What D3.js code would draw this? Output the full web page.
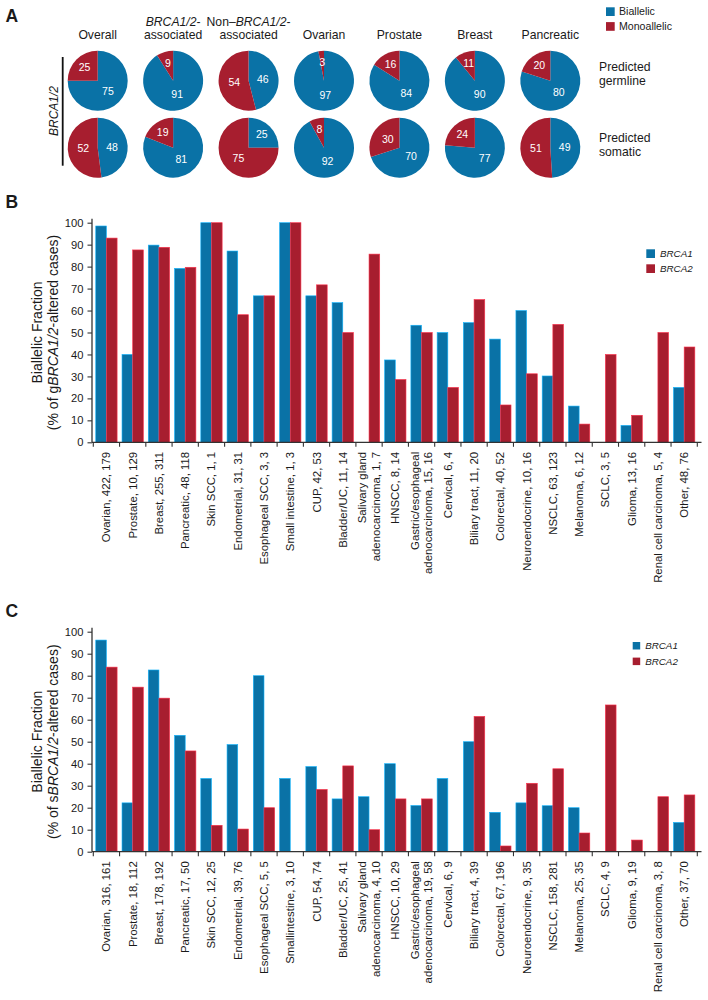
<!DOCTYPE html>
<html><head><meta charset="utf-8">
<script src="https://cdn.jsdelivr.net/npm/d3@7"></script>
<style>
body{margin:0;background:#fff}
svg{display:block}
text{font-family:"Liberation Sans",Arial,Helvetica,sans-serif;fill:#1a1a1a}
</style>
</head><body>
<svg id="chart" width="708" height="1000"></svg>
<script>
// ---------- DATA ----------
const pieGroups = ["Overall","BRCA1/2-associated","Non–BRCA1/2-associated","Ovarian","Prostate","Breast","Pancreatic"];
const pieTitleLines = [["Overall"],["*BRCA1/2*-","associated"],["Non–*BRCA1/2*-","associated"],["Ovarian"],["Prostate"],["Breast"],["Pancreatic"]];
const pieRows = ["germline","somatic"];
const pieRowLabels = [["Predicted","germline"],["Predicted","somatic"]];
const germBiallelic = [75,91,46,97,84,90,80];
const germMonoallelic = [25,9,54,3,16,11,20];
const somBiallelic = [48,81,25,92,70,77,49];
const somMonoallelic = [52,19,75,8,30,24,51];
const pieLegend = ["Biallelic","Monoallelic"];

const genes = ["BRCA1","BRCA2"];
const yTicks = [0,10,20,30,40,50,60,70,80,90,100];

const gCategories = ["Ovarian, 422, 179","Prostate, 10, 129","Breast, 255, 311","Pancreatic, 48, 118","Skin SCC, 1, 1","Endometrial, 31, 31","Esophageal SCC, 3, 3","Small intestine, 1, 3","CUP, 42, 53","Bladder/UC, 11, 14","Salivary gland\nadenocarcinoma, 1, 7","HNSCC, 8, 14","Gastric/esophageal\nadenocarcinoma, 15, 16","Cervical, 6, 4","Biliary tract, 11, 20","Colorectal, 40, 52","Neuroendocrine, 10, 16","NSCLC, 63, 123","Melanoma, 6, 12","SCLC, 3, 5","Glioma, 13, 16","Renal cell carcinoma, 5, 4","Other, 48, 76"];
const gBRCA1 = [98.5,40,89.8,79.2,100,87.1,66.7,100,66.7,63.6,0,37.5,53.3,50,54.5,47,60,30.2,16.5,0,7.7,0,25];
const gBRCA2 = [93,87.6,88.8,79.7,100,58.1,66.7,100,71.7,50,85.7,28.6,50,25,65,17,31.2,53.7,8.3,40,12.3,50,43.4];

const sCategories = ["Ovarian, 316, 161","Prostate, 18, 112","Breast, 178, 192","Pancreatic, 17, 50","Skin SCC, 12, 25","Endometrial, 39, 76","Esophageal SCC, 5, 5","Smallintestine, 3, 10","CUP, 54, 74","Bladder/UC, 25, 41","Salivary gland\nadenocarcinoma, 4, 10","HNSCC, 10, 29","Gastric/esophageal\nadenocarcinoma, 19, 58","Cervical, 6, 9","Biliary tract, 4, 39","Colorectal, 67, 196","Neuroendocrine, 9, 35","NSCLC, 158, 281","Melanoma, 25, 35","SCLC, 4, 9","Glioma, 9, 19","Renal cell carcinoma, 3, 8","Other, 37, 70"];
const sBRCA1 = [96.2,22.2,82.6,52.9,33.3,48.7,80,33.3,38.7,24,25,40,21,33.3,50,17.9,22.2,20.9,20,0,0,0,13.3];
const sBRCA2 = [83.9,74.8,69.8,45.8,12,10.3,20,0,28.3,39,10,24,24,0,61.5,2.6,31.1,37.7,8.5,66.7,5.3,25,25.8];

// ---------- STYLE ----------
const BLUE = "#0a72a6", RED = "#a71e2f";
const color = d3.scaleOrdinal().domain(["Biallelic","Monoallelic","BRCA1","BRCA2"]).range([BLUE,RED,BLUE,RED]);
const svg = d3.select("#chart");

function richText(sel, str){
  str.split("*").forEach((seg,i)=>{
    if(seg.length) sel.append("tspan").attr("font-style", i%2 ? "italic" : null).text(seg);
  });
}

// panel letters
[["A",21.7],["B",208.3],["C",616.7]].forEach(([t,y])=>{
  svg.append("text").attr("x",5.5).attr("y",y).attr("font-size",17.5).attr("font-weight","bold").attr("fill","#000").text(t);
});

// ---------- PANEL A ----------
const xPie = d3.scalePoint().domain(pieGroups).range([97.7,550.3]);
const yPie = d3.scalePoint().domain(pieRows).range([80.7,147.7]);
const R = 30;
const pie = d3.pie().sort(null).value(d=>d.v);
const arc = d3.arc().innerRadius(0).outerRadius(R);
const pieData = [
  {row:"germline", b:germBiallelic, m:germMonoallelic},
  {row:"somatic", b:somBiallelic, m:somMonoallelic}
];
const gA = svg.append("g");
pieData.forEach(rowD=>{
  pieGroups.forEach((grp,i)=>{
    const g = gA.append("g").attr("transform",`translate(${xPie(grp)},${yPie(rowD.row)})`);
    const arcs = pie([{k:"Biallelic",v:rowD.b[i]},{k:"Monoallelic",v:rowD.m[i]}]);
    g.selectAll("path").data(arcs).join("path").attr("d",arc).attr("fill",d=>color(d.data.k));
    g.selectAll("text").data(arcs).join("text")
      .attr("transform",d=>{
        const f = d.data.v/(rowD.b[i]+rowD.m[i]);
        const lr = f <= 0.25 ? R*0.62 : R*0.48;
        const c = d3.arc().innerRadius(lr).outerRadius(lr).centroid(d);
        return `translate(${c[0]},${c[1]})`;
      })
      .attr("text-anchor","middle").attr("dy","0.36em").attr("font-size",10.5)
      .style("fill","#fff").text(d=>d.data.v);
  });
});
// titles
pieGroups.forEach((grp,i)=>{
  const lines = pieTitleLines[i];
  lines.forEach((ln,j)=>{
    const t = gA.append("text").attr("x",xPie(grp)).attr("text-anchor","middle").attr("font-size",12.2)
      .attr("y", 38.5 - (lines.length-1-j)*12.8);
    richText(t, ln);
  });
});
// row labels
pieRows.forEach((r,i)=>{
  const base = yPie(r) + (i===0 ? -9.7 : -5.7);
  pieRowLabels[i].forEach((ln,j)=>{
    gA.append("text").attr("x",599).attr("y",base + j*13.5).attr("font-size",12.2).text(ln);
  });
});
// bracket + label
gA.append("line").attr("x1",62.7).attr("x2",62.7).attr("y1",57).attr("y2",165.7).attr("stroke","#111").attr("stroke-width",1.8);
gA.append("text").attr("transform","translate(57.5,111) rotate(-90)").attr("text-anchor","middle")
  .attr("font-size",12).attr("font-style","italic").text("BRCA1/2");
// legend
pieLegend.forEach((k,i)=>{
  gA.append("rect").attr("x",606).attr("y",7.3+i*14.8).attr("width",8.7).attr("height",8.7).attr("fill",color(k));
  gA.append("text").attr("x",619).attr("y",15.4+i*14.8).attr("font-size",10.6).text(k);
});

// ---------- BAR PANELS ----------
function barPanel(cfg){
  const g = svg.append("g");
  const axisX = 92;
  const x = d3.scaleBand().domain(cfg.cats).range([93.3,697.3]).padding(0);
  const xs = d3.scaleBand().domain(genes).range([0,x.bandwidth()]).paddingOuter(0.23).paddingInner(0);
  const y = d3.scaleLinear().domain([0,100]).range([cfg.y0,cfg.y1]);
  const rows = cfg.cats.flatMap((c,i)=>[{c,k:"BRCA1",v:cfg.b1[i]},{c,k:"BRCA2",v:cfg.b2[i]}]).filter(d=>d.v>0);
  g.selectAll("rect.bar").data(rows).join("rect").attr("class","bar")
    .attr("x",d=>x(d.c)+xs(d.k)).attr("width",xs.bandwidth())
    .attr("y",d=>y(d.v)).attr("height",d=>y(0)-y(d.v))
    .attr("fill",d=>color(d.k))
    .attr("stroke",d=>d3.color(color(d.k)).brighter(1.3)).attr("stroke-width",0.6);
  // y axis
  const ya = g.append("g").attr("transform",`translate(${axisX},0)`)
    .call(d3.axisLeft(y).tickValues(yTicks).tickSize(4.5).tickPadding(4).tickSizeOuter(0));
  ya.select(".domain").remove();
  ya.selectAll("line").attr("stroke","#333").attr("stroke-width",1.1);
  ya.selectAll("text").attr("font-size",11.2).attr("font-family",null).style("fill","#1a1a1a");
  g.append("line").attr("x1",axisX).attr("x2",axisX).attr("y1",y(0)).attr("y2",y(100)-4).attr("stroke","#333").attr("stroke-width",1.3);
  // x axis
  g.append("line").attr("x1",axisX).attr("x2",701.5).attr("y1",y(0)).attr("y2",y(0)).attr("stroke","#333").attr("stroke-width",1.3);
  const bounds = cfg.cats.map(c=>x(c)).concat([x.range()[1]]);
  g.selectAll("line.xt").data(bounds).join("line").attr("class","xt")
    .attr("x1",d=>d).attr("x2",d=>d).attr("y1",y(0)).attr("y2",y(0)+4.5).attr("stroke","#333").attr("stroke-width",1.1);
  // category labels
  cfg.cats.forEach(c=>{
    const lines = c.split("\n");
    const t = g.append("g").attr("transform",`translate(${x(c)+x.bandwidth()/2},${y(0)+9.5}) rotate(-90)`);
    lines.forEach((ln,j)=>{
      const off = 0.35 + (j-(lines.length-1)/2)*1.2;
      t.append("text").attr("x",0).attr("y",0).attr("dy",off+"em").attr("text-anchor","end")
        .attr("font-size",11.4).text(ln);
    });
  });
  // y title
  const cy = (y(0)+y(100))/2;
  const tt = g.append("g").attr("transform",`translate(0,${cy}) rotate(-90)`);
  tt.append("text").attr("x",0).attr("y",41.7).attr("text-anchor","middle").attr("font-size",14).text("Biallelic Fraction");
  richText(tt.append("text").attr("x",0).attr("y",57.5).attr("text-anchor","middle").attr("font-size",14), cfg.title2);
  // legend
  genes.forEach((k,i)=>{
    g.append("rect").attr("x",cfg.lx).attr("y",cfg.ly+i*cfg.lstep).attr("width",cfg.ls).attr("height",cfg.ls).attr("fill",color(k));
    g.append("text").attr("x",cfg.lx+cfg.ls+5).attr("y",cfg.ly+i*cfg.lstep+cfg.ls/2).attr("dy","0.35em")
      .attr("font-size",9.8).attr("font-style","italic").text(k);
  });
}

barPanel({cats:gCategories,b1:gBRCA1,b2:gBRCA2,y0:442.3,y1:222.7,title2:"(% of g*BRCA1/2*-altered cases)",lx:646.3,ly:249.3,ls:8.7,lstep:15});
barPanel({cats:sCategories,b1:sBRCA1,b2:sBRCA2,y0:851.7,y1:631.7,title2:"(% of s*BRCA1/2*-altered cases)",lx:632.7,ly:642,ls:7.5,lstep:15.6});
</script>
</body></html>
